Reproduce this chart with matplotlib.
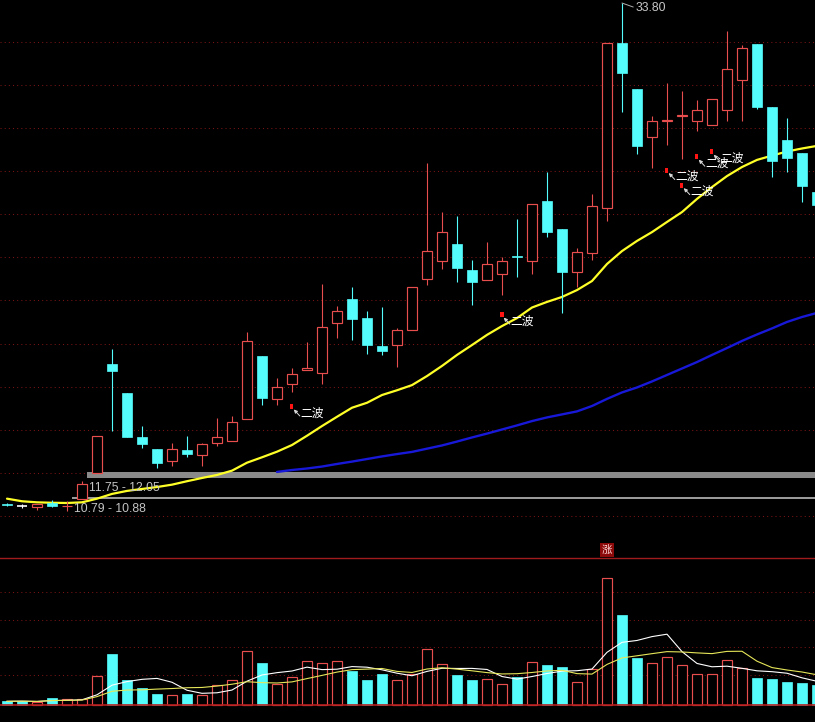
import matplotlib
matplotlib.use('Agg')
import matplotlib.pyplot as plt
import numpy as np
import pandas as pd
from matplotlib.patches import Rectangle

# ---------------- data ----------------
opens = [10.54, 10.46, 10.40, 10.58, 10.44, 10.78, 11.98, 17.05, 15.70, 13.65,
         13.10, 12.56, 13.06, 12.84, 13.37, 13.49, 14.51, 17.42, 15.41, 16.11,
         16.78, 16.62, 18.94, 20.07, 19.18, 17.88, 17.92, 18.63, 21.01, 21.84,
         22.62, 21.40, 20.96, 21.24, 22.05, 21.81, 24.61, 23.31, 21.30, 22.19,
         24.27, 31.93, 29.81, 27.60, 28.31, 28.57, 28.34, 28.14, 28.82, 30.21,
         31.91, 28.96, 27.44, 26.83, 25.02]
highs = [10.58, 10.55, 10.55, 10.74, 10.69, 11.61, 13.71, 17.75, 15.70, 14.17,
         13.10, 13.37, 13.71, 13.40, 14.53, 14.65, 18.53, 17.42, 16.40, 16.85,
         18.07, 20.76, 19.74, 20.64, 19.49, 19.69, 18.71, 20.62, 26.36, 24.10,
         23.92, 21.88, 22.71, 22.00, 23.76, 24.46, 25.95, 23.31, 22.42, 24.92,
         31.93, 33.80, 29.81, 28.56, 30.09, 29.72, 29.30, 29.33, 32.49, 31.84,
         31.91, 28.96, 28.48, 26.83, 25.02]
lows = [10.46, 10.35, 10.26, 10.40, 10.24, 10.78, 11.98, 13.95, 13.68, 13.17,
        12.24, 12.33, 12.73, 12.33, 13.26, 13.49, 14.51, 15.16, 15.16, 15.74,
        16.78, 16.11, 18.27, 18.16, 17.50, 17.48, 16.92, 18.63, 20.73, 21.44,
        20.87, 19.80, 20.96, 20.27, 21.10, 21.23, 22.96, 19.40, 20.64, 21.88,
        23.70, 28.76, 26.81, 26.13, 27.21, 26.55, 27.88, 28.14, 28.34, 28.34,
        28.87, 25.74, 25.97, 24.55, 24.43]
closes = [10.49, 10.46, 10.55, 10.47, 10.46, 11.48, 13.69, 16.74, 13.68, 13.35,
          12.47, 13.09, 12.89, 13.32, 13.66, 14.34, 18.12, 15.49, 15.97, 16.57,
          16.85, 18.75, 19.49, 19.15, 17.94, 17.67, 18.61, 20.62, 22.29, 23.17,
          21.52, 20.87, 21.68, 21.81, 22.01, 24.46, 23.19, 21.33, 22.23, 24.37,
          31.93, 30.57, 27.18, 28.31, 28.36, 28.60, 28.82, 29.33, 30.72, 31.70,
          28.99, 26.48, 26.62, 25.32, 24.43]
ma_yellow = [10.80, 10.68, 10.63, 10.61, 10.60, 10.63, 10.80, 11.02, 11.16, 11.25,
             11.34, 11.45, 11.61, 11.76, 11.90, 12.10, 12.47, 12.72, 12.98, 13.29,
             13.72, 14.17, 14.60, 15.02, 15.25, 15.61, 15.83, 16.07, 16.49, 16.96,
             17.47, 17.93, 18.40, 18.81, 19.18, 19.67, 19.93, 20.16, 20.48, 20.90,
             21.69, 22.29, 22.76, 23.17, 23.64, 24.10, 24.71, 25.26, 25.77, 26.19,
             26.52, 26.72, 26.91, 27.05, 27.17]
ma_blue = [np.nan] * 18 + [
    12.04, 12.13, 12.20, 12.29, 12.41, 12.52, 12.64, 12.76, 12.87, 12.97,
    13.12, 13.27, 13.45, 13.64, 13.82, 14.01, 14.20, 14.40, 14.57, 14.71,
    14.85, 15.10, 15.43, 15.73, 15.96, 16.24, 16.54, 16.84, 17.14, 17.47,
    17.79, 18.12, 18.42, 18.70, 19.00, 19.23, 19.42]
volumes = [3.4, 3.7, 2.7, 6.7, 5.4, 6.0, 28.7, 50.7, 24.7, 16.7,
           10.7, 9.4, 10.7, 9.4, 19.4, 24.4, 53.7, 41.7, 21.0, 27.7,
           43.7, 41.4, 43.7, 34.0, 24.7, 30.7, 24.4, 31.0, 55.7, 40.4,
           29.7, 24.7, 25.7, 20.4, 27.4, 42.7, 39.7, 37.7, 22.4, 35.7,
           126.4, 89.7, 47.0, 41.7, 47.7, 39.4, 30.4, 30.4, 44.7, 37.0,
           27.0, 26.0, 22.7, 21.7, 19.7]
wave_idx = [19, 33, 44, 45, 46, 47]
wave_price = [15.19, 19.45, 26.16, 25.46, 26.78, 27.01]
wave_text = '二波'
gap_start = [4, 5]
gap_low = [10.79, 11.75]
gap_high = [10.88, 12.05]
price_grid = [10, 12, 14, 16, 18, 20, 22, 24, 26, 28, 30, 32]
vol_grid = [30, 57.5, 85, 112.5]
vol_flag = '涨'

# ---------------- style ----------------
RED = '#e84e4e'
CYAN = '#54fcfc'
BG = 'black'
CJK = ['Noto Sans CJK SC', 'DejaVu Sans']
NUMF = ['Liberation Sans', 'DejaVu Sans']
PX = 0.72  # points per pixel at dpi 100

n = len(opens)
W = 0.72

fig = plt.figure(figsize=(8.15, 7.22), dpi=100, facecolor=BG)
ax = fig.add_axes([0, 192 / 722, 1, 530 / 722])
axv = fig.add_axes([0, 0, 1, 192 / 722])
for a in (ax, axv):
    a.set_facecolor(BG)
    for s in a.spines.values():
        s.set_visible(False)
    a.set_xticks([])
    a.set_yticks([])
    a.set_xlim(-7 / 15, 808 / 15)

ax.set_ylim(9.346, 33.94)
axv.set_ylim(-17.3, 174.7)

# grid lines
for p in price_grid:
    ax.axhline(p, color='#7a1414', ls=(0, (1, 3)), lw=0.75, zorder=0)
for v in vol_grid:
    axv.axhline(v, color='#7a1414', ls=(0, (1, 3)), lw=0.75, zorder=0)

# gap zones
gap_colors = ['#9a9a9a', '#8a8a8a']
for s, lo, hi, gc in zip(gap_start, gap_low, gap_high, gap_colors):
    x0 = s + W / 2
    ax.add_patch(Rectangle((x0, lo), 80, hi - lo, facecolor=gc, edgecolor='none', zorder=1))
    ax.annotate(f'{lo:.2f} - {hi:.2f}', xy=(x0, lo), xytext=(1.5 * PX, -10 * PX),
                textcoords='offset points', ha='left', va='center',
                color='#c4c4c4', fontsize=8.7, family=NUMF, zorder=5)

# moving averages
xs = np.arange(n)
ax.plot(xs, ma_yellow, color='#ffff28', lw=1.6, zorder=3, solid_capstyle='round')
ax.plot(xs, ma_blue, color='#1818d8', lw=1.7, zorder=3, solid_capstyle='round')

# candles
for i in range(n):
    o, h, l, c = opens[i], highs[i], lows[i], closes[i]
    top, bot = max(o, c), min(o, c)
    if c > o:
        ax.vlines(i, top, h, color=RED, lw=0.8, zorder=4)
        ax.vlines(i, l, bot, color=RED, lw=0.8, zorder=4)
        ax.add_patch(Rectangle((i - W / 2, bot), W, max(top - bot, 0.02),
                               facecolor=BG, edgecolor=RED, lw=0.85, zorder=4))
    elif c < o:
        ax.vlines(i, l, h, color=CYAN, lw=0.8, zorder=4)
        ax.add_patch(Rectangle((i - W / 2, bot), W, max(top - bot, 0.03),
                               facecolor=CYAN, edgecolor=CYAN, lw=0.5, zorder=4))
    else:
        ax.vlines(i, l, h, color='white', lw=0.8, zorder=4)
        ax.hlines(o, i - W / 2, i + W / 2, color='white', lw=1.2, zorder=4)

# "二波" signals
for i, p in zip(wave_idx, wave_price):
    ax.add_patch(Rectangle((i - 0.1, p - 0.23), 0.2, 0.23, facecolor='#ff1414',
                           edgecolor='none', zorder=6))
    ax.annotate('', xy=(i + 0.12, p - 0.25), xytext=(6 * PX, -6.5 * PX),
                textcoords='offset points',
                arrowprops=dict(arrowstyle='-|>', color='#d8d8d8', lw=0.7,
                                mutation_scale=5, shrinkA=0, shrinkB=0), zorder=6)
    ax.annotate(wave_text, xy=(i, p), xytext=(8.5 * PX, -8.8 * PX),
                textcoords='offset points', ha='left', va='center',
                color='white', fontsize=8.5, family=CJK, zorder=7)

# peak label
ip = int(np.argmax(highs))
ax.annotate(f'{highs[ip]:.2f}', xy=(ip, highs[ip]), xytext=(14 * PX, -5 * PX),
            textcoords='offset points', ha='left', va='center',
            color='#c8c8c8', fontsize=8.7, family=NUMF, zorder=7,
            arrowprops=dict(arrowstyle='-', color='#b0b0b0', lw=0.7,
                            shrinkA=0, shrinkB=0, relpos=(0, 0.5)))

# volume bars
for i in range(n):
    v = volumes[i]
    if closes[i] > opens[i]:
        axv.add_patch(Rectangle((i - W / 2, 0), W, v, facecolor=BG,
                                edgecolor=RED, lw=0.85, zorder=3))
    else:
        axv.add_patch(Rectangle((i - W / 2, 0), W, v, facecolor=CYAN,
                                edgecolor=CYAN, lw=0.5, zorder=3))

vs = pd.Series(volumes)
axv.plot(xs, vs.rolling(5, min_periods=1).mean(), color='white', lw=0.8, zorder=4)
axv.plot(xs, vs.rolling(10, min_periods=1).mean(), color='#e6e65a', lw=0.8, zorder=4)

axv.axhline(0, color='#b41e1e', lw=1.2, zorder=5)
axv.plot([0, 1], [0.854, 0.854], transform=axv.transAxes, color='#a01c1c', lw=1.0, zorder=2)

iv = int(np.argmax(volumes))
axv.annotate(vol_flag, xy=(iv, 0.854), xycoords=('data', 'axes fraction'),
             xytext=(0, 8 * PX), textcoords='offset points', ha='center', va='center',
             color='#ffd8d8', fontsize=7.5, family=CJK, zorder=6,
             bbox=dict(facecolor='#8c0a0a', edgecolor='none', pad=1.2))

fig.savefig('out.png', dpi=100, facecolor=BG)
